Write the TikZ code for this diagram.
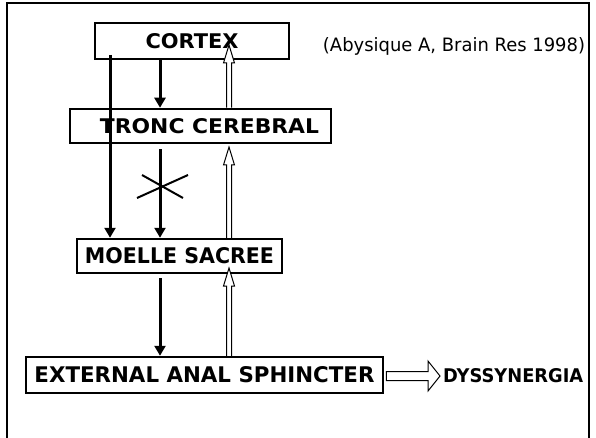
\documentclass[tikz,border=0pt]{standalone}
\usepackage{fontspec}
\setmainfont{DejaVu Sans}
\usetikzlibrary{calc,arrows.meta}
\newcommand{\boxtext}[3]{\resizebox{#1pt}{#2pt}{\bfseries #3}}
\newcommand{\hollowup}[2]{%
  \filldraw[hollow] let \p1=(#1), \p2=(#2) in
    (\x1-2.5pt,\y1) -- (\x1-2.5pt,\y2-18pt) -- (\x1-5.5pt,\y2-18pt) -- (\x1,\y2)
    -- (\x1+5.5pt,\y2-18pt) -- (\x1+2.5pt,\y2-18pt) -- (\x1+2.5pt,\y1);}
\tikzset{
  stagebox/.style={draw=black, line width=2.5pt, fill=white, inner sep=0pt},
  solidarrow/.style={line width=3pt, -{Triangle[length=10pt,width=11pt]}},
  hollow/.style={draw=black, fill=white, line width=1pt, line join=miter},
  frameline/.style={line width=2pt},
  crossline/.style={line width=2pt},
}
\begin{document}
\begin{tikzpicture}[x=1pt,y=-1pt]
\useasboundingbox (0,0) rectangle (596,438);
% outer frame (open at the bottom)
\draw[frameline] (7,445) -- (7,3) -- (589,3) -- (589,445);
% boxes
\node[stagebox, minimum width=194pt, minimum height=36pt] (cortex) at (192,41) {\boxtext{93}{15}{CORTEX}};
\node[stagebox, minimum width=261pt, minimum height=34pt] (tronc) at (200.5,126) {\hspace*{18pt}\boxtext{219}{15}{TRONC CEREBRAL}};
\node[stagebox, minimum width=205pt, minimum height=34pt] (moelle) at (179.5,256) {\boxtext{189}{16}{MOELLE SACREE}};
\node[stagebox, minimum width=357pt, minimum height=36pt] (ext) at (204.5,375) {\boxtext{340}{16}{EXTERNAL ANAL SPHINCTER}};
\node[anchor=west, inner sep=0pt] (dys) at (443,376) {\boxtext{140}{14}{DYSSYNERGIA}};
\node[inner sep=0pt] (ref) at (454,46) {\resizebox{262pt}{14pt}{(Abysique A, Brain Res 1998)}};
% reference coordinates for the vertical tracks
\coordinate (lt) at (110,55);
\coordinate (mx) at (160,0);
\coordinate (hx) at (229,0);
% solid descending arrows
\draw[solidarrow] (lt) -- (lt |- moelle.north);
\draw[solidarrow] (cortex.south -| mx) -- (tronc.north -| mx);
\draw[solidarrow] ($(tronc.south -| mx)+(0,5)$) -- (moelle.north -| mx);
\draw[solidarrow] ($(moelle.south -| mx)+(0,4)$) -- (ext.north -| mx);
% cross (interruption)
\coordinate (cross) at (162,186);
\draw[crossline] ($(cross)+(-20,-11)$) -- ($(cross)+(21,12)$);
\draw[crossline] ($(cross)+(-25,12)$) -- ($(cross)+(26,-11)$);
% hollow ascending arrows
\coordinate (t1) at (229,45);
\coordinate (t2) at (229,147);
\coordinate (t3) at (229,268);
\hollowup{tronc.north -| hx}{t1}
\hollowup{moelle.north -| hx}{t2}
\hollowup{ext.north -| hx}{t3}
% hollow arrow to dyssynergia
\coordinate (hs) at ($(ext.east)+(2,0)$);
\coordinate (htip) at ($(dys.west)+(-3,0)$);
\filldraw[hollow] let \p1=(hs), \p2=(htip) in
  (\x1,\y2+4.5pt) -- (\x2-12pt,\y2+4.5pt) -- (\x2-12pt,\y2+15pt) -- (\x2,\y2)
  -- (\x2-12pt,\y2-15pt) -- (\x2-12pt,\y2-4.5pt) -- (\x1,\y2-4.5pt) -- cycle;
\end{tikzpicture}
\end{document}
